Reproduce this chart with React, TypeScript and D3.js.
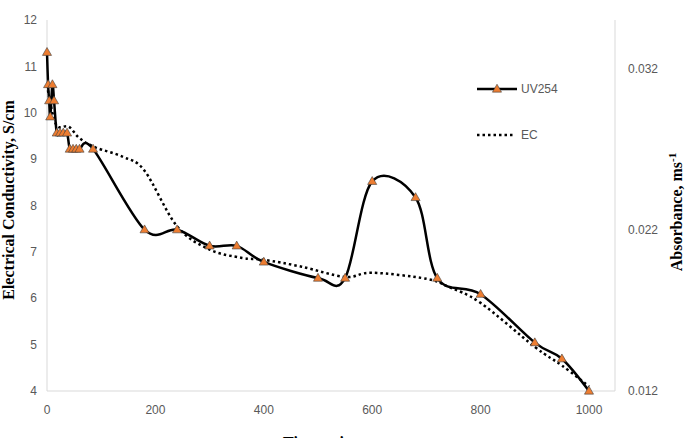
import React from "react";
import * as d3 from "d3";

// Time (min) for UV254 absorbance observations
const uvTime = [0, 2, 4, 6, 10, 13, 18, 24, 30, 37, 42, 48, 54, 60, 85, 180, 240, 300, 350, 400, 500, 550, 600, 680, 720, 800, 900, 950, 1000];
// UV254 absorbance (ms^-1), secondary axis
const uvValue = [0.033, 0.031, 0.030, 0.029, 0.031, 0.030, 0.028, 0.028, 0.028, 0.028, 0.027, 0.027, 0.027, 0.027, 0.027, 0.022, 0.022, 0.021, 0.021, 0.020, 0.019, 0.019, 0.025, 0.024, 0.019, 0.018, 0.015, 0.014, 0.012];

// Time (min) for electrical conductivity observations
const ecTime = [0, 10, 20, 40, 60, 90, 140, 180, 240, 300, 360, 400, 470, 550, 600, 700, 740, 800, 900, 950, 1000];
// Electrical conductivity (S/cm), primary axis
const ecValue = [10.6, 10.0, 9.7, 9.7, 9.45, 9.25, 9.05, 8.75, 7.55, 7.05, 6.87, 6.83, 6.68, 6.46, 6.55, 6.42, 6.25, 5.9, 4.95, 4.55, 4.1];

const xTicks = [0, 200, 400, 600, 800, 1000];
const yLeftTicks = [4, 5, 6, 7, 8, 9, 10, 11, 12];
const yRightTicks = [0.012, 0.022, 0.032];

const seriesNames = ["UV254", "EC"];

export default function App() {
  const W = 687;
  const H = 438;
  const left = 47;
  const top = 20;
  const bottom = 391;
  const frameRight = 615;

  const x = d3.scaleLinear().domain([0, 1000]).range([left, 589]);
  const yL = d3.scaleLinear().domain([4, 12]).range([bottom, top]);
  const yR = d3.scaleLinear().domain([0.012, 0.035]).range([bottom, top]);

  const uvData = uvTime.map((t, i) => [t, uvValue[i]] as [number, number]);
  const ecData = ecTime.map((t, i) => [t, ecValue[i]] as [number, number]);

  const uvLine = d3
    .line<[number, number]>()
    .x((d) => x(d[0]))
    .y((d) => yR(d[1]))
    .curve(d3.curveCardinal.tension(0));
  const ecLine = d3
    .line<[number, number]>()
    .x((d) => x(d[0]))
    .y((d) => yL(d[1]))
    .curve(d3.curveCardinal.tension(0));

  const tri = d3.symbol().type(d3.symbolTriangle).size(36)() as string;

  const tickFont = "'Liberation Sans', Arial, sans-serif";
  const tickColor = "#595959";
  const titleFont = "'Liberation Serif', 'Times New Roman', serif";

  return (
    <svg
      width={W}
      height={H}
      style={{ position: "absolute", left: 0, top: 0, background: "#fff" }}
    >
      <rect x={0} y={0} width={W} height={H} fill="#fff" />
      {/* frame lines */}
      <line x1={left} x2={left} y1={top} y2={bottom} stroke="#d9d9d9" strokeWidth={1} />
      <line x1={frameRight} x2={frameRight} y1={top} y2={bottom} stroke="#d9d9d9" strokeWidth={1} />
      <line x1={left} x2={frameRight} y1={bottom} y2={bottom} stroke="#d9d9d9" strokeWidth={1} />

      {/* left ticks */}
      {yLeftTicks.map((v) => (
        <text
          key={"l" + v}
          x={37}
          y={yL(v)}
          dy="0.35em"
          textAnchor="end"
          fontFamily={tickFont}
          fontSize={12}
          fill={tickColor}
        >
          {v}
        </text>
      ))}
      {/* right ticks */}
      {yRightTicks.map((v) => (
        <text
          key={"r" + v}
          x={628}
          y={yR(v)}
          dy="0.35em"
          textAnchor="start"
          fontFamily={tickFont}
          fontSize={12}
          fill={tickColor}
        >
          {v.toFixed(3)}
        </text>
      ))}
      {/* x ticks */}
      {xTicks.map((v) => (
        <text
          key={"x" + v}
          x={x(v)}
          y={410}
          dy="0.35em"
          textAnchor="middle"
          fontFamily={tickFont}
          fontSize={12}
          fill={tickColor}
        >
          {v}
        </text>
      ))}

      {/* EC dotted */}
      <path
        d={ecLine(ecData) as string}
        fill="none"
        stroke="#000"
        strokeWidth={2.5}
        strokeDasharray="2.5 3"
      />
      {/* UV254 line */}
      <path d={uvLine(uvData) as string} fill="none" stroke="#000" strokeWidth={2.5} />
      {uvData.map((d, i) => (
        <path
          key={"m" + i}
          d={tri}
          transform={`translate(${x(d[0])},${yR(d[1]) + 0.5})`}
          fill="#ED7D31"
          stroke="#404040"
          strokeWidth={0.6}
        />
      ))}

      {/* legend */}
      <line x1={477} x2={517} y1={89} y2={89} stroke="#000" strokeWidth={2.5} />
      <path d={tri} transform="translate(497,89.5)" fill="#ED7D31" stroke="#404040" strokeWidth={0.6} />
      <text x={521} y={89} dy="0.35em" fontFamily={tickFont} fontSize={12} fill={tickColor}>
        {seriesNames[0]}
      </text>
      <line x1={477} x2={514} y1={135} y2={135} stroke="#000" strokeWidth={2.5} strokeDasharray="2.5 3" />
      <text x={521} y={135} dy="0.35em" fontFamily={tickFont} fontSize={12} fill={tickColor}>
        {seriesNames[1]}
      </text>

      {/* axis titles */}
      <text
        transform="translate(14,200) rotate(-90)"
        textAnchor="middle"
        fontFamily={titleFont}
        fontWeight="bold"
        fontSize={16}
        fill="#000"
      >
        Electrical Conductivity, S/cm
      </text>
      <text
        transform="translate(682,212) rotate(-90)"
        textAnchor="middle"
        fontFamily={titleFont}
        fontWeight="bold"
        fontSize={16}
        fill="#000"
      >
        Absorbance, ms<tspan dy="-6" fontSize={11}>-1</tspan>
      </text>
      <text
        x={318}
        y={448}
        textAnchor="middle"
        fontFamily={titleFont}
        fontWeight="bold"
        fontSize={16}
        fill="#000"
      >
        Time, min
      </text>
    </svg>
  );
}
